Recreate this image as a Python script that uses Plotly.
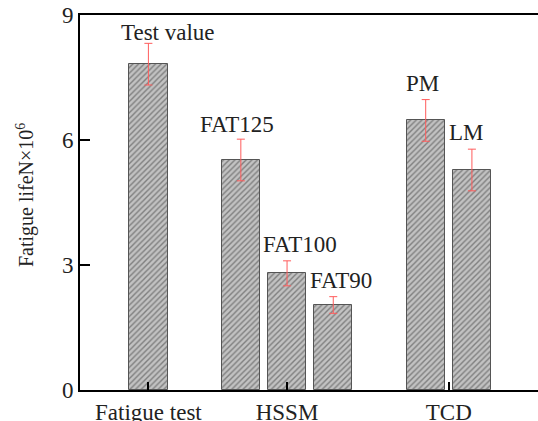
import plotly.graph_objects as go

# ---- data ----
group_names = ["Fatigue test", "HSSM", "TCD"]
group_sizes = [1, 3, 2]
bar_labels = ["Test value", "FAT125", "FAT100", "FAT90", "PM", "LM"]
life_values = [7.82, 5.52, 2.80, 2.04, 6.47, 5.28]
life_errors = [0.50, 0.50, 0.30, 0.20, 0.50, 0.50]
y_ticks = [0, 3, 6, 9]

# ---- positions derived from group structure (pitch 1, gap 1 between groups) ----
positions, group_centers = [], []
cur = 0
for n in group_sizes:
    grp = [cur + i for i in range(n)]
    positions += grp
    group_centers.append((grp[0] + grp[-1]) / 2)
    cur = grp[-1] + 2

FONT = "Liberation Serif"
TXT = "#222222"

fig = go.Figure()
fig.add_trace(go.Bar(
    x=positions, y=life_values, width=0.83,
    marker=dict(
        color="#bdbdbd",
        line=dict(color="#555555", width=1),
        pattern=dict(shape="/", fgcolor="#3c3c3c", bgcolor="#c2c2c2", size=4, solidity=0.35),
    ),
    error_y=dict(type="data", array=life_errors, visible=True,
                 color="#ff5c5c", thickness=1, width=4),
    showlegend=False, hoverinfo="skip",
))

# label offsets (px) for text above error bars
xshifts = [20, -4, 13, 8, -3, -5]
yshifts = [-4, 0, 2, 2, 2, 2]
for p, lab, v, e, dx, dy in zip(positions, bar_labels, life_values, life_errors, xshifts, yshifts):
    fig.add_annotation(x=p, y=v + e, text=lab, showarrow=False, xanchor="center",
                       yanchor="bottom", xshift=dx, yshift=dy,
                       font=dict(family=FONT, size=23, color=TXT))

fig.add_annotation(xref="paper", yref="paper", x=-0.12, y=0.52,
                   text="Fatigue lifeN×10<sup>6</sup>", textangle=-90, showarrow=False,
                   xanchor="center", yanchor="middle",
                   font=dict(family=FONT, size=20, color=TXT))

fig.update_layout(
    width=538, height=421,
    margin=dict(l=80, r=0, t=15, b=31),
    paper_bgcolor="white", plot_bgcolor="white",
    bargap=0,
    font=dict(family=FONT, color=TXT),
    xaxis=dict(
        range=[-1.48, 8.43], tickvals=group_centers, ticktext=group_names,
        ticks="inside", ticklen=8, tickwidth=2, tickcolor="black",
        showline=True, linecolor="black", linewidth=2, mirror=True,
        showgrid=False, zeroline=False, automargin=False,
        tickfont=dict(family=FONT, size=23, color=TXT),
    ),
    yaxis=dict(
        range=[0, 9], tickvals=y_ticks,
        ticks="inside", ticklen=10, tickwidth=2, tickcolor="black",
        showline=True, linecolor="black", linewidth=2,
        showgrid=False, zeroline=False, automargin=False,
        tickfont=dict(family=FONT, size=23, color=TXT),
    ),
)

fig.write_html("out.html", config={"displayModeBar": False},
               post_script="document.body.style.margin='0';document.body.style.overflow='hidden';")
